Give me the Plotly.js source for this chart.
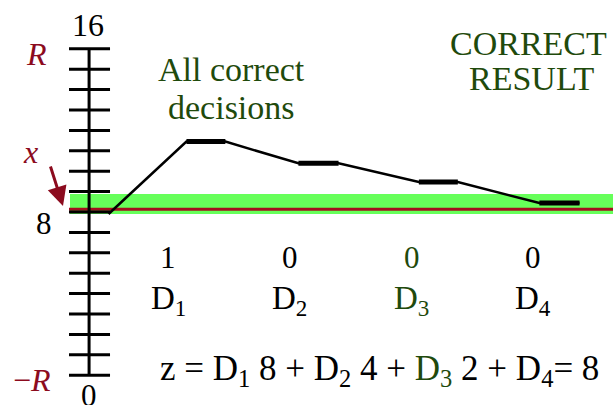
<!DOCTYPE html>
<html><head><meta charset="utf-8">
<script src="https://cdn.plot.ly/plotly-3.0.1.min.js"></script>
<style>html,body{margin:0;padding:0;background:#fff}#chart{width:613px;height:405px}</style>
</head><body><div id="chart"></div>
<script>
// ---- data ----
const TICK_VALUES = [0,1,2,3,4,5,6,7,8,9,10,11,12,13,14,15,16];
const AXIS_LABELS = ["0", "8", "16"];
const STAGES = [1, 2, 3, 4];
const STAGE_NAMES = ["D<sub>1</sub>", "D<sub>2</sub>", "D<sub>3</sub>", "D<sub>4</sub>"];
const DECISIONS = [1, 0, 0, 0];
const START_X = 0.51, START_Y = 7.9;
const PLATEAU_START = [1.15, 2.07, 3.06, 4.05];
const PLATEAU_END = [1.47, 2.40, 3.38, 4.38];
const PLATEAU_Y = [11.45, 10.39, 9.47, 8.44];
const X_VALUE = 8.13;
const BAND = [7.9, 8.88];

// ---- geometry / style ----
const W = 613, H = 405;
const XR = [-0.382, 4.655];
const YR = [-1.461, 18.392];
const AXIS_X = 0.35, TICK_L = 0.185, TICK_R = 0.522;
const SERIF = "Liberation Serif, Times New Roman, serif";
const DARKRED = "#8c0b1e", GREEN = "#1f4a0c";
const px = v => v / W, py = v => 1 - v / H;

// axis line + ticks
const tx = [], ty = [];
TICK_VALUES.forEach(v => { tx.push(TICK_L, TICK_R, null); ty.push(v, v, null); });
const axisTrace = {x: [AXIS_X, AXIS_X], y: [TICK_VALUES[0], TICK_VALUES[TICK_VALUES.length-1]],
  mode: "lines", line: {color: "#000", width: 3}, hoverinfo: "skip"};
const tickTrace = {x: tx, y: ty, mode: "lines", line: {color: "#000", width: 3}, hoverinfo: "skip"};

// path
const pathX = [START_X], pathY = [START_Y];
PLATEAU_START.forEach((s, i) => { pathX.push(s, PLATEAU_END[i]); pathY.push(PLATEAU_Y[i], PLATEAU_Y[i]); });
const pathTrace = {x: pathX, y: pathY, mode: "lines", line: {color: "#000", width: 2.5}, hoverinfo: "skip"};
const px2 = [], py2 = [];
PLATEAU_START.forEach((s, i) => { px2.push(s, PLATEAU_END[i], null); py2.push(PLATEAU_Y[i], PLATEAU_Y[i], null); });
const plateauTrace = {x: px2, y: py2, mode: "lines", line: {color: "#000", width: 5}, hoverinfo: "skip"};

const ann = [];
const T = (text, x, y, size, color, opts) => Object.assign({text, x, y, xref: "paper", yref: "paper",
  showarrow: false, xanchor: "center", yanchor: "middle", font: {family: SERIF, size, color}}, opts || {});

// axis end labels
ann.push(T(AXIS_LABELS[2], px(88), py(25), 32, "#000"));
ann.push(T(AXIS_LABELS[1], px(44), py(224), 31, "#000"));
ann.push(T(AXIS_LABELS[0], px(89), py(395), 31, "#000"));
ann.push(T("<i>R</i>", px(36), py(54), 32, DARKRED));
ann.push(T("&#8722;<i>R</i>", px(32), py(380), 32, DARKRED));
ann.push(T("<i>x</i>", px(30), py(152), 32, DARKRED));
// arrow
ann.push({text: "", x: px(63), y: py(206), xref: "paper", yref: "paper", showarrow: true,
  ax: -13, ay: -41, arrowhead: 2, arrowsize: 1.3, arrowwidth: 3, arrowcolor: DARKRED, standoff: 0});

// titles
ann.push(T("All correct", px(231), py(69), 34, GREEN));
ann.push(T("decisions", px(231), py(108), 34, GREEN));
ann.push(T("CORRECT", px(528), py(44), 34, GREEN));
ann.push(T("RESULT", px(532), py(78), 34, GREEN));

// decisions and stage names
STAGES.forEach((s, i) => {
  const c = i === 2 ? GREEN : "#000";
  ann.push(Object.assign(T(String(DECISIONS[i]), s, py(257), 31, c), {xref: "x"}));
  ann.push(Object.assign(T(STAGE_NAMES[i], s, py(300), 33, c), {xref: "x"}));
});

// equation
ann.push(T("z = D<sub>1</sub> 8 + D<sub>2</sub> 4 + <span style='color:" + GREEN + "'>D<sub>3</sub></span> 2 + D<sub>4</sub>= 8",
  px(379), py(370), 35, "#000"));

const layout = {
  width: W, height: H, margin: {l: 0, r: 0, t: 0, b: 0},
  paper_bgcolor: "#fff", plot_bgcolor: "#fff", showlegend: false,
  xaxis: {range: XR, visible: false, fixedrange: true},
  yaxis: {range: YR, visible: false, fixedrange: true},
  shapes: [
    {type: "rect", xref: "paper", yref: "y", x0: px(70), x1: 1, y0: BAND[0], y1: BAND[1],
     fillcolor: "#66ff5a", line: {width: 0}, layer: "below"},
    {type: "line", xref: "paper", yref: "y", x0: px(69), x1: 1, y0: X_VALUE, y1: X_VALUE,
     line: {color: "#a3101e", width: 3}, layer: "below"}
  ],
  annotations: ann
};
Plotly.newPlot("chart", [axisTrace, tickTrace, pathTrace, plateauTrace], layout, {staticPlot: true, displayModeBar: false});
</script></body></html>
